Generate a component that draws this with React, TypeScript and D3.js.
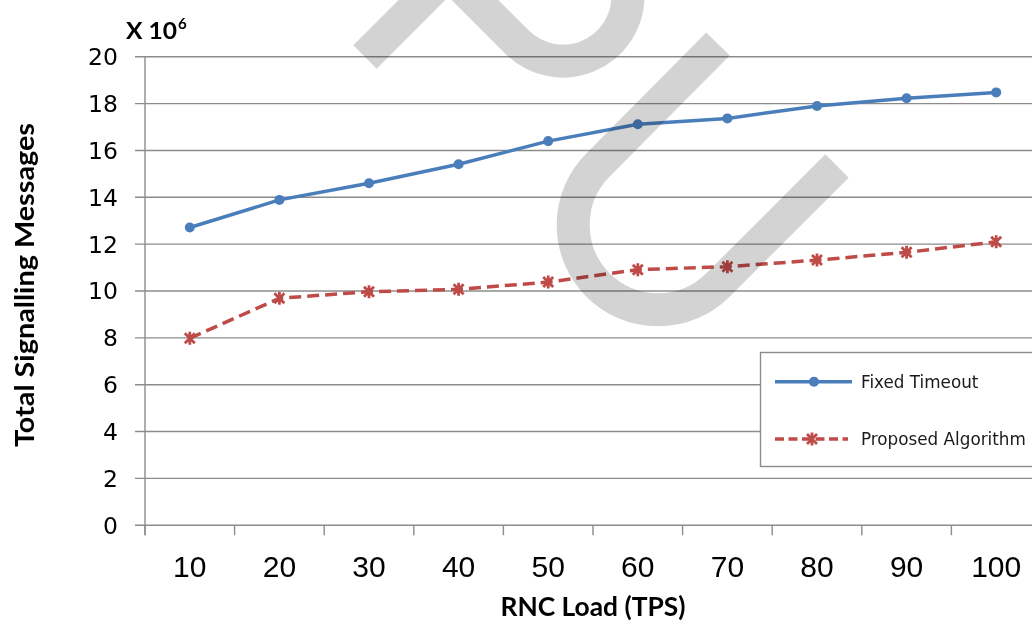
import React from 'react';
import * as d3 from 'd3';

const categories = ['10', '20', '30', '40', '50', '60', '70', '80', '90', '100'];
const fixedTimeout = [12.71, 13.89, 14.6, 15.41, 16.4, 17.12, 17.37, 17.9, 18.23, 18.48];
const proposedAlgorithm = [7.98, 9.69, 9.97, 10.07, 10.38, 10.91, 11.04, 11.32, 11.65, 12.1];
const yTicks = [0, 2, 4, 6, 8, 10, 12, 14, 16, 18, 20];
const seriesNames = ['Fixed Timeout', 'Proposed Algorithm'];
const xTitle = 'RNC Load (TPS)';
const yTitle = 'Total Signalling Messages';

const W = 1032;
const H = 623;
const BLUE = '#4A7EBB';
const RED = '#BE4B48';
const GRID = '#8C8C8C';

export default function App() {
  const x = d3.scaleBand<string>().domain(categories).range([145, 1041]).padding(0);
  const y = d3.scaleLinear().domain([0, 20]).range([525.2, 56.8]);
  const cx = (c: string) => (x(c) as number) + x.bandwidth() / 2;

  const line = d3
    .line<number>()
    .x((_, i) => cx(categories[i]))
    .y((d) => y(d));

  const starPath = 'M-5,-5L5,5M-5,5L5,-5M0,-6.5L0,6.5';

  return (
    <svg
      width={W}
      height={H}
      style={{ position: 'absolute', left: 0, top: 0, background: '#fff' }}
      xmlns="http://www.w3.org/2000/svg"
    >
      <rect x={0} y={0} width={W} height={H} fill="#fff" />

      {/* gridlines */}
      {yTicks.map((t) => (
        <line key={'g' + t} x1={135} x2={1041} y1={y(t)} y2={y(t)} stroke={GRID} strokeWidth={1.4} />
      ))}
      {/* y axis */}
      <line x1={145} x2={145} y1={y(20)} y2={y(0) + 10} stroke={GRID} strokeWidth={1.4} />
      {/* x ticks */}
      {categories.map((c) => (
        <line key={'t' + c} x1={x(c) as number} x2={x(c) as number} y1={y(0)} y2={y(0) + 10} stroke={GRID} strokeWidth={1.4} />
      ))}

      {/* y tick labels */}
      {yTicks.map((t) => (
        <text
          key={'yl' + t}
          x={118}
          y={y(t)}
          dy="0.36em"
          textAnchor="end"
          fontFamily="DejaVu Sans, sans-serif"
          fontSize={23.5}
          fill="#000"
        >
          {t}
        </text>
      ))}
      {/* x tick labels */}
      {categories.map((c) => (
        <text
          key={'xl' + c}
          x={cx(c)}
          y={576.5}
          textAnchor="middle"
          fontFamily="Liberation Sans, Arial, sans-serif"
          fontSize={30}
          fill="#000"
        >
          {c}
        </text>
      ))}

      {/* axis titles */}
      <text
        x={593}
        y={616}
        textAnchor="middle"
        fontFamily="Lato, sans-serif"
        fontWeight="bold"
        fontSize={26}
        textLength={185}
        lengthAdjust="spacingAndGlyphs"
      >
        {xTitle}
      </text>
      <text
        transform="translate(34,285) rotate(-90)"
        textAnchor="middle"
        fontFamily="Lato, sans-serif"
        fontWeight="bold"
        fontSize={27}
        textLength={324}
        lengthAdjust="spacingAndGlyphs"
      >
        {yTitle}
      </text>
      <text x={126} y={39} fontFamily="Lato, sans-serif" fontWeight="bold" fontSize={22} textLength={51} lengthAdjust="spacingAndGlyphs">
        X 10
      </text>
      <text x={178} y={29} fontFamily="Lato, sans-serif" fontWeight="bold" fontSize={15}>
        6
      </text>

      {/* series lines */}
      <path d={line(fixedTimeout) || ''} fill="none" stroke={BLUE} strokeWidth={3.5} strokeLinejoin="round" />
      <path
        d={line(proposedAlgorithm) || ''}
        fill="none"
        stroke={RED}
        strokeWidth={3.5}
        strokeDasharray="12,6"
        strokeLinejoin="round"
      />
      {fixedTimeout.map((v, i) => (
        <circle key={'c' + i} cx={cx(categories[i])} cy={y(v)} r={5} fill={BLUE} />
      ))}
      {proposedAlgorithm.map((v, i) => (
        <path
          key={'s' + i}
          d={starPath}
          transform={`translate(${cx(categories[i])},${y(v)})`}
          stroke={RED}
          strokeWidth={2.8}
          fill="none"
        />
      ))}

      {/* legend */}
      <rect x={760.5} y={352.5} width={300} height={114} fill="#fff" stroke={GRID} strokeWidth={1.4} />
      <line x1={775} x2={852} y1={381.7} y2={381.7} stroke={BLUE} strokeWidth={3.5} />
      <circle cx={814} cy={381.7} r={5} fill={BLUE} />
      <text x={861} y={388} fontFamily="DejaVu Sans, sans-serif" fontSize={16.8} fill="#1a1a1a">
        {seriesNames[0]}
      </text>
      <line x1={775} x2={848} y1={439} y2={439} stroke={RED} strokeWidth={3.5} strokeDasharray="9,4.5" />
      <path d={starPath} transform="translate(812,439)" stroke={RED} strokeWidth={2.8} fill="none" />
      <text x={861} y={445} fontFamily="DejaVu Sans, sans-serif" fontSize={16.8} fill="#1a1a1a">
        {seriesNames[1]}
      </text>

      {/* watermark */}
      <g
        fill="none"
        stroke="#D3D3D3"
        strokeWidth={33}
        strokeLinecap="butt"
        style={{ mixBlendMode: 'multiply' }}
      >
        <path d="M365,57L445,-23" />
        <path d="M454,-21L517,42A65,65 0 0 0 628,-4L628,-30" />
        <path d="M718,44L598,165A84.85,84.85 0 0 0 718,285L837,166" />
      </g>
    </svg>
  );
}
